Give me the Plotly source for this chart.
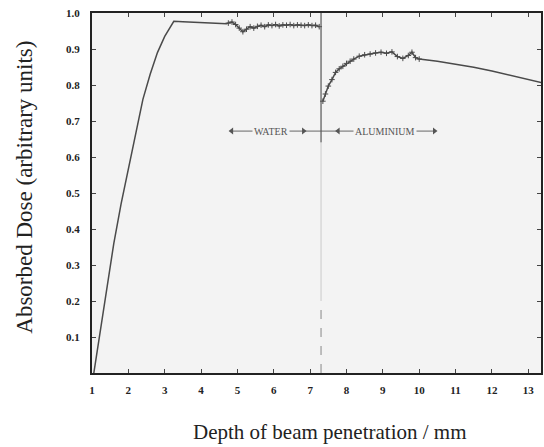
import plotly.graph_objects as go

# Build-up curve (water, smooth part)
rise_x = [1.05, 1.2, 1.4, 1.6, 1.8, 2.0, 2.2, 2.4, 2.6, 2.8, 3.0, 3.15, 3.25, 3.5, 4.0, 4.5, 4.7]
rise_y = [0.0, 0.10, 0.24, 0.36, 0.47, 0.57, 0.67, 0.76, 0.83, 0.89, 0.935, 0.962, 0.977, 0.976, 0.973, 0.97, 0.97]

# Measured points in water
water_x = [4.75, 4.85, 4.95, 5.05, 5.15, 5.25, 5.35, 5.45, 5.55, 5.65, 5.75, 5.85, 5.95,
           6.05, 6.15, 6.25, 6.35, 6.45, 6.55, 6.65, 6.75, 6.85, 6.95, 7.05, 7.15, 7.25]
water_y = [0.972, 0.975, 0.968, 0.958, 0.948, 0.955, 0.962, 0.958, 0.963, 0.966, 0.962, 0.967, 0.965,
           0.968, 0.964, 0.967, 0.966, 0.968, 0.965, 0.967, 0.966, 0.965, 0.967, 0.965, 0.966, 0.962]

# Measured points in aluminium
alu_x = [7.35, 7.42, 7.5, 7.6, 7.7, 7.8, 7.9, 8.0, 8.1, 8.2, 8.35, 8.5, 8.65, 8.8, 8.95,
         9.1, 9.25, 9.4, 9.55, 9.7, 9.8, 9.9, 10.0]
alu_y = [0.755, 0.775, 0.797, 0.815, 0.835, 0.845, 0.852, 0.86, 0.866, 0.872, 0.88, 0.884, 0.886,
         0.889, 0.891, 0.888, 0.892, 0.879, 0.874, 0.882, 0.891, 0.876, 0.872]

# Calculated tail in aluminium
tail_x = [10.0, 10.5, 11.0, 11.5, 12.0, 12.5, 13.0, 13.4]
tail_y = [0.872, 0.866, 0.858, 0.849, 0.839, 0.828, 0.816, 0.806]

interface_x = 7.3
x_ticks = list(range(1, 14))
y_ticks = [0.1, 0.2, 0.3, 0.4, 0.5, 0.6, 0.7, 0.8, 0.9, 1.0]
y_ticktext = ["0.1", "0.2", "0.3", "0.4", "0.5", "0.6", "0.7", "0.8", "0.9", "1.0"]

LINE = "#4a4a4a"
SERIF = "Liberation Serif, Times New Roman, serif"
BG = "#f3f3f3"

fig = go.Figure()
fig.add_trace(go.Scatter(x=rise_x + water_x, y=rise_y + water_y, mode="lines",
                         line=dict(color=LINE, width=1.5), hoverinfo="skip"))
fig.add_trace(go.Scatter(x=water_x, y=water_y, mode="markers",
                         marker=dict(symbol="cross-thin", size=4, line=dict(color=LINE, width=1)),
                         hoverinfo="skip"))
fig.add_trace(go.Scatter(x=alu_x + tail_x[1:], y=alu_y + tail_y[1:], mode="lines",
                         line=dict(color=LINE, width=1.5), hoverinfo="skip"))
fig.add_trace(go.Scatter(x=alu_x, y=alu_y, mode="markers",
                         marker=dict(symbol="cross-thin", size=4, line=dict(color=LINE, width=1)),
                         hoverinfo="skip"))

# Interface line
fig.add_shape(type="line", x0=interface_x, x1=interface_x, y0=0.64, y1=1.0,
              line=dict(color="#555555", width=1.2))
fig.add_shape(type="line", x0=interface_x, x1=interface_x, y0=0.2, y1=0.64,
              line=dict(color="#d0d0d0", width=1.2))
fig.add_shape(type="line", x0=interface_x, x1=interface_x, y0=0.0, y1=0.2,
              line=dict(color="#999999", width=1.2, dash="dash"))

# Region arrows
arrow_y = 0.672
fig.add_trace(go.Scatter(x=[4.84, 10.45], y=[arrow_y, arrow_y], mode="lines",
                         line=dict(color="#666666", width=1), hoverinfo="skip"))
fig.add_trace(go.Scatter(x=[4.84, 6.82, 7.77, 10.42], y=[arrow_y] * 4, mode="markers",
                         marker=dict(symbol=["triangle-left", "triangle-right", "triangle-left", "triangle-right"],
                                     size=6, color="#555555"), hoverinfo="skip"))
fig.add_annotation(x=5.92, y=arrow_y, text="WATER", showarrow=False,
                   font=dict(family=SERIF, size=10, color="#555555"), bgcolor=BG)
fig.add_annotation(x=9.05, y=arrow_y, text="ALUMINIUM", showarrow=False,
                   font=dict(family=SERIF, size=10, color="#555555"), bgcolor=BG)

# Axis titles
fig.add_annotation(xref="paper", yref="paper", x=0.529, y=-0.164, yanchor="middle",
                   text="Depth of beam penetration / mm", showarrow=False,
                   font=dict(family=SERIF, size=21, color="#222222"))
fig.add_annotation(xref="paper", yref="paper", x=-0.149, y=0.515, xanchor="center",
                   yanchor="middle",
                   text="Absorbed Dose (arbitrary units)", showarrow=False, textangle=-90,
                   font=dict(family=SERIF, size=23, color="#222222"))

axis_common = dict(showline=True, linecolor="#222222", linewidth=2, mirror="ticks",
                   ticks="inside", ticklen=4, tickcolor="#444444", showgrid=False,
                   zeroline=False,
                   tickfont=dict(family=SERIF, size=11, color="#222222", weight="bold"))

fig.update_layout(
    width=544, height=447,
    margin=dict(l=92, r=1, t=13, b=74),
    paper_bgcolor="#ffffff", plot_bgcolor=BG,
    showlegend=False,
    xaxis=dict(range=[1, 13.35], tickvals=x_ticks, ticklabelstandoff=6, **axis_common),
    yaxis=dict(range=[0, 1.0], tickvals=y_ticks, ticktext=y_ticktext, ticklabelstandoff=8,
               **axis_common),
)

fig.write_html("out.html")
